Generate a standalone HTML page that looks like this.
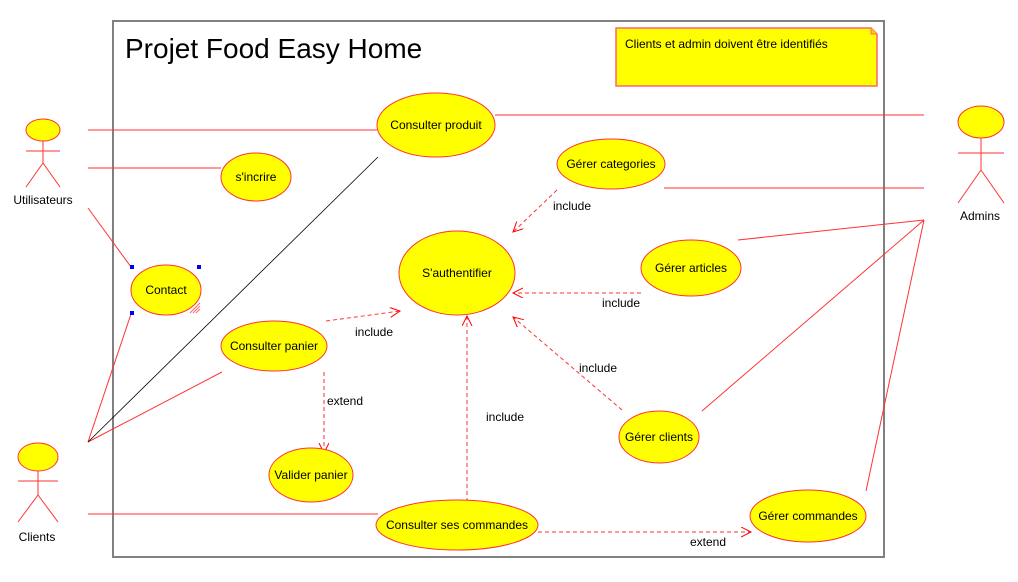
<!DOCTYPE html>
<html><head><meta charset="utf-8"><style>
html,body{margin:0;padding:0;background:#fff}
svg{display:block}
text{font-family:"Liberation Sans",Arial,sans-serif;font-size:12px;fill:#000}
</style></head><body>
<svg width="1018" height="582" viewBox="0 0 1018 582">
<defs>
<marker id="a" markerWidth="12" markerHeight="12" refX="10" refY="5" orient="auto" markerUnits="userSpaceOnUse">
<path d="M0,0 L10,5 L0,10" fill="none" stroke="#f00" stroke-width="1"/></marker>
</defs>
<rect x="113" y="21" width="771" height="536" fill="none" stroke="#808080" stroke-width="2"/>
<text x="125" y="58" style="font-size:28px">Projet Food Easy Home</text>
<path d="M616,28 H871 L877,34 V86 H616 Z" fill="#ff0" stroke="#f66" stroke-width="1.5"/>
<path d="M871,28 V34 H877" fill="#fc0" stroke="#f66"/>
<text x="625" y="48">Clients et admin doivent être identifiés</text>

<g stroke="#f33" stroke-width="1" fill="none">
<line x1="88" y1="130" x2="377" y2="130"/>
<line x1="88" y1="168" x2="221" y2="168"/>
<line x1="88" y1="208" x2="131" y2="267"/>
<line x1="88" y1="442" x2="131" y2="314"/>
<line x1="88" y1="442" x2="222" y2="372"/>
<line x1="88" y1="514" x2="378" y2="514"/>
<line x1="495" y1="115" x2="924" y2="115"/>
<line x1="664" y1="188" x2="924" y2="188"/>
<line x1="738" y1="240" x2="924" y2="220"/>
<line x1="702" y1="411" x2="924" y2="220"/>
<line x1="866" y1="491" x2="924" y2="220"/>
</g>
<line x1="88" y1="442" x2="378" y2="157" stroke="#000" stroke-width="0.8"/>
<g stroke="#f33" stroke-width="1" fill="none" stroke-dasharray="4,3" marker-end="url(#a)">
<line x1="557" y1="190" x2="513" y2="232"/>
<line x1="641" y1="293" x2="513" y2="293"/>
<line x1="622" y1="410" x2="513" y2="317"/>
<line x1="326" y1="321" x2="400" y2="311"/>
<line x1="324" y1="372" x2="324" y2="453"/>
<line x1="467" y1="502" x2="467" y2="316"/>
<line x1="538" y1="532" x2="751" y2="532"/>
</g>
<text x="553" y="210">include</text>
<text x="602" y="307">include</text>
<text x="579" y="372">include</text>
<text x="355" y="336">include</text>
<text x="327" y="405">extend</text>
<text x="486" y="421">include</text>
<text x="690" y="546">extend</text>

<g fill="#ff0" stroke="#f33" stroke-width="1">
<ellipse cx="436" cy="125" rx="59" ry="32"/>
<ellipse cx="256" cy="177" rx="35" ry="24"/>
<ellipse cx="166" cy="290" rx="35" ry="25"/>
<ellipse cx="457" cy="273" rx="58" ry="42"/>
<ellipse cx="611" cy="164" rx="54" ry="25"/>
<ellipse cx="691" cy="268" rx="50" ry="28"/>
<ellipse cx="274" cy="346" rx="53" ry="25"/>
<ellipse cx="311" cy="475" rx="42" ry="27"/>
<ellipse cx="659" cy="437" rx="40" ry="26"/>
<ellipse cx="457" cy="525" rx="81" ry="25"/>
<ellipse cx="808" cy="516" rx="58" ry="26"/>
</g>
<g text-anchor="middle">
<text x="436" y="129">Consulter produit</text>
<text x="256" y="181">s'incrire</text>
<text x="166" y="294">Contact</text>
<text x="457" y="277">S'authentifier</text>
<text x="611" y="168">Gérer categories</text>
<text x="691" y="272">Gérer articles</text>
<text x="274" y="350">Consulter panier</text>
<text x="311" y="479">Valider panier</text>
<text x="659" y="441">Gérer clients</text>
<text x="457" y="529">Consulter ses commandes</text>
<text x="808" y="520">Gérer commandes</text>
<text x="43" y="204">Utilisateurs</text>
<text x="980" y="220">Admins</text>
<text x="37" y="541">Clients</text>
</g>
<g fill="#00f"><rect x="130" y="265" width="4" height="4"/><rect x="197" y="265" width="4" height="4"/><rect x="130" y="311" width="4" height="4"/></g>
<g stroke="#f66" stroke-width="1" fill="none"><line x1="190" y1="313" x2="200" y2="303"/><line x1="193" y1="313" x2="200" y2="306"/><line x1="196" y1="313" x2="200" y2="309"/></g>

<g stroke="#f33" stroke-width="1" fill="none">
<ellipse cx="43" cy="130" rx="17" ry="11" fill="#ff0"/>
<path d="M43,141 V163 M26,151 H60 M43,163 L26,187 M43,163 L60,187"/>
<ellipse cx="981" cy="122" rx="23" ry="16" fill="#ff0"/>
<path d="M981,138 V170 M958,153 H1004 M981,170 L958,203 M981,170 L1004,203"/>
<ellipse cx="38" cy="457" rx="20" ry="14" fill="#ff0"/>
<path d="M38,471 V495 M18,481 H58 M38,495 L18,522 M38,495 L58,522"/>
</g>
</svg>
</body></html>
